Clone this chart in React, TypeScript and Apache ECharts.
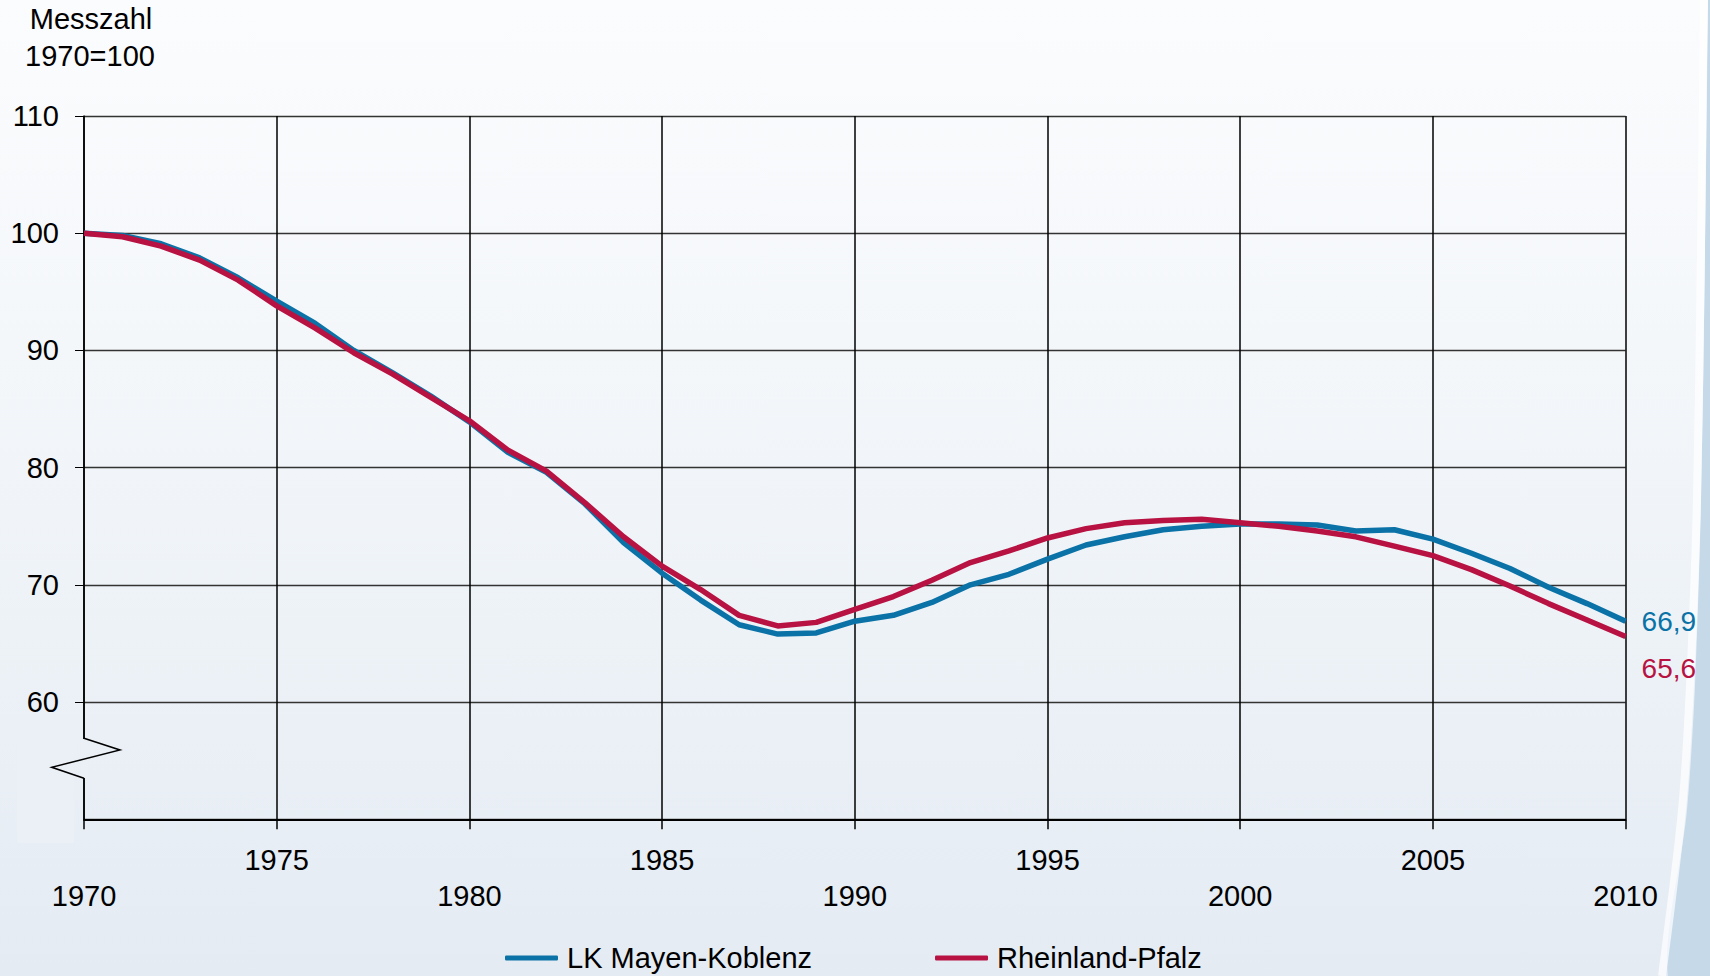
import React, { useEffect, useRef } from "react";
import * as echarts from "echarts";

const years = [
  1970, 1971, 1972, 1973, 1974, 1975, 1976, 1977, 1978, 1979,
  1980, 1981, 1982, 1983, 1984, 1985, 1986, 1987, 1988, 1989,
  1990, 1991, 1992, 1993, 1994, 1995, 1996, 1997, 1998, 1999,
  2000, 2001, 2002, 2003, 2004, 2005, 2006, 2007, 2008, 2009, 2010,
];

const mayenKoblenz = [
  100, 99.8, 99.1, 97.9, 96.2, 94.2, 92.3, 90.0, 88.1, 86.1,
  83.9, 81.3, 79.6, 76.9, 73.6, 71.0, 68.7, 66.6, 65.8, 65.9,
  66.9, 67.4, 68.5, 70.0, 70.9, 72.2, 73.4, 74.1, 74.7, 75.0,
  75.2, 75.2, 75.1, 74.6, 74.7, 73.9, 72.7, 71.4, 69.8, 68.4, 66.9,
];

const rheinlandPfalz = [
  100, 99.7, 98.9, 97.7, 96.0, 93.8, 91.9, 89.8, 88.0, 86.0,
  84.0, 81.5, 79.7, 77.0, 74.1, 71.6, 69.6, 67.4, 66.5, 66.8,
  67.9, 69.0, 70.4, 71.9, 72.9, 74.0, 74.8, 75.3, 75.5, 75.6,
  75.3, 75.0, 74.6, 74.1, 73.3, 72.5, 71.3, 69.9, 68.4, 67.0, 65.6,
];

const seriesNames = ["LK Mayen-Koblenz", "Rheinland-Pfalz"];
const yTitle = ["Messzahl", "1970=100"];

const BLUE = "#0a72a6";
const RED = "#b71242";
const FONT = "'Liberation Sans', Arial, sans-serif";
const BG_MASK = "#ebf0f6";

export default function App() {
  const ref = useRef<HTMLDivElement>(null);

  useEffect(() => {
    if (!ref.current) return;
    const chart = echarts.init(ref.current, undefined, { renderer: "svg" });
    const fmt = (v: number) => v.toFixed(1).replace(".", ",");

    chart.setOption({
      animation: false,
      backgroundColor: "transparent",
      textStyle: { fontFamily: FONT },
      grid: { left: 84, top: 116, width: 1541.6, height: 703.3, containLabel: false },
      legend: {
        data: seriesNames,
        left: 505,
        top: 941,
        padding: 0,
        itemGap: 123,
        itemWidth: 53,
        itemHeight: 5,
        icon: "roundRect",
        selectedMode: false,
        textStyle: {
          fontFamily: FONT,
          fontSize: 29,
          lineHeight: 34,
          color: "#000",
          padding: [0, 0, 0, 4],
        },
      },
      xAxis: {
        type: "value",
        min: 1970,
        max: 2010,
        interval: 5,
        axisLine: { show: true, onZero: false, lineStyle: { color: "#000", width: 2 } },
        axisTick: { show: true, length: 10, lineStyle: { color: "#000", width: 1.5 } },
        splitLine: { show: true, lineStyle: { color: "#000", width: 1.5 } },
        axisLabel: {
          margin: 23,
          fontSize: 29,
          color: "#000",
          lineHeight: 36,
          formatter: (v: number) => (v % 10 === 0 ? "\n" + String(v) : String(v)),
        },
      },
      yAxis: {
        type: "value",
        min: 50,
        max: 110,
        interval: 10,
        axisLine: { show: true, lineStyle: { color: "#000", width: 1.5 } },
        axisTick: { show: true, length: 9, lineStyle: { color: "#000", width: 1 } },
        splitLine: { show: true, lineStyle: { color: "#333", width: 1.3 } },
        axisLabel: {
          margin: 25,
          fontSize: 29,
          color: "#000",
          showMinLabel: false,
          formatter: (v: number) => (v === 50 ? "" : String(v)),
        },
      },
      series: [
        {
          name: seriesNames[0],
          type: "line",
          data: years.map((y, i) => [y, mayenKoblenz[i]]),
          showSymbol: false,
          symbol: "none",
          color: BLUE,
          lineStyle: { color: BLUE, width: 5.5 },
          z: 3,
          endLabel: {
            show: true,
            formatter: (p: any) => fmt(p.value[1]),
            color: BLUE,
            fontSize: 28,
            fontFamily: FONT,
            distance: 16,
          },
        },
        {
          name: seriesNames[1],
          type: "line",
          data: years.map((y, i) => [y, rheinlandPfalz[i]]),
          showSymbol: false,
          symbol: "none",
          color: RED,
          lineStyle: { color: RED, width: 5.5 },
          z: 4,
          endLabel: {
            show: true,
            formatter: (p: any) => fmt(p.value[1]),
            color: RED,
            fontSize: 28,
            fontFamily: FONT,
            distance: 16,
            offset: [0, 32],
          },
        },
      ],
      graphic: [
        {
          type: "polygon",
          z: -10,
          silent: true,
          shape: {
            points: [
              [1708, 0], [1705, 250], [1701, 500], [1695, 685], [1687, 810], [1668, 976],
              [1710, 976], [1710, 0],
            ],
            smooth: 0.3,
          },
          style: { fill: "#c5d9e9" },
        },
        {
          type: "polyline",
          z: -9,
          silent: true,
          shape: {
            points: [[1704, 0], [1701, 250], [1697, 500], [1690, 685], [1682, 810], [1662, 976]],
            smooth: 0.3,
          },
          style: { stroke: "rgba(255,255,255,0.7)", lineWidth: 8, fill: "none" },
        },
        {
          type: "rect",
          z: 50,
          silent: true,
          shape: { x: 17, y: 735, width: 57, height: 108 },
          style: { fill: BG_MASK },
        },
        {
          type: "rect",
          z: 50,
          silent: true,
          shape: { x: 81, y: 739, width: 7, height: 39 },
          style: { fill: BG_MASK },
        },
        {
          type: "polyline",
          z: 51,
          silent: true,
          shape: { points: [[84, 738.3], [120, 750], [51.7, 767.3], [84, 778.3]] },
          style: { stroke: "#000", lineWidth: 1.5, fill: "none" },
        },
        {
          type: "text",
          z: 51,
          x: 91,
          y: 19,
          style: {
            text: yTitle[0],
            fontSize: 29,
            fontFamily: FONT,
            fill: "#000",
            align: "center",
            verticalAlign: "middle",
          },
        },
        {
          type: "text",
          z: 51,
          x: 90,
          y: 56,
          style: {
            text: yTitle[1],
            fontSize: 29,
            fontFamily: FONT,
            fill: "#000",
            align: "center",
            verticalAlign: "middle",
          },
        },
      ],
    });

    return () => chart.dispose();
  }, []);

  return (
    <div
      ref={ref}
      style={{
        position: "fixed",
        left: 0,
        top: 0,
        width: 1710,
        height: 976,
        background: "linear-gradient(to bottom, #fbfcfe 0%, #f4f7fa 35%, #edf2f7 65%, #e4ebf3 100%)",
      }}
    />
  );
}
